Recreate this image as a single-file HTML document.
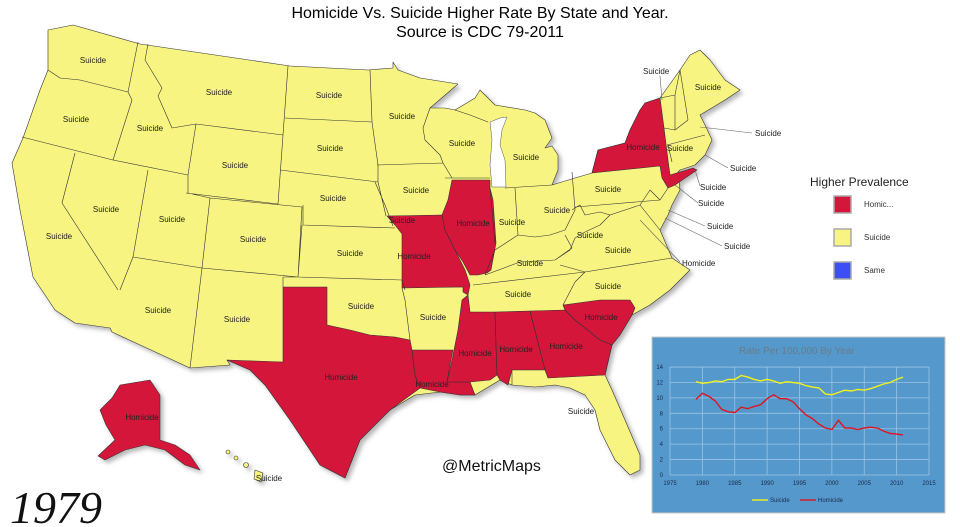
<!DOCTYPE html>
<html><head><meta charset="utf-8"><style>
html,body{margin:0;padding:0;background:#fff;}
body{width:960px;height:527px;position:relative;overflow:hidden;font-family:"Liberation Sans",sans-serif;}
.t{position:absolute;left:0;width:960px;text-align:center;font-size:16px;color:#000;}
</style></head><body>
<div class="t" style="top:5px">Homicide Vs. Suicide Higher Rate By State and Year.</div>
<div class="t" style="top:24px">Source is CDC 79-2011</div>
<svg width="960" height="527" style="position:absolute;left:0;top:0" font-family="Liberation Sans,sans-serif">
<defs><filter id="sh" x="-5%" y="-5%" width="110%" height="110%"><feDropShadow dx="3" dy="3" stdDeviation="2" flood-color="#888" flood-opacity="0.6"/></filter></defs>
<g stroke="#333" stroke-width="0.6" stroke-linejoin="round" filter="url(#sh)">
<path fill="#f7f481" d="M48,30 L73,25 140,44 290,66 368,70 393,68 393,62 398,70 420,78 458,84 430,108 445,108 455,110 475,98 480,90 495,105 525,110 535,113 545,120 552,138 545,148 552,146 558,155 558,170 552,185 575,178 592,173 598,150 625,143 630,130 640,110 645,103 660,98 680,70 690,55 700,50 710,60 725,80 740,90 725,100 700,115 705,125 712,140 705,155 695,165 680,170 678,172 680,190 672,205 668,215 660,230 672,258 690,270 670,290 650,305 632,315 620,335 612,345 605,375 612,390 625,420 640,455 640,470 630,475 615,460 600,430 595,410 585,395 570,388 555,385 535,387 512,385 500,380 475,395 460,395 440,392 415,395 390,410 360,440 345,478 320,465 290,420 265,385 250,370 227,360 230,365 190,368 112,332 110,328 75,323 55,310 33,277 20,210 12,163 23,138 40,90 48,70 Z"/>
<g fill="#d4163a">
<path d="M387,216 L442,215 445,230 460,260 465,270 470,285 468,295 463,292 463,287 402,288 402,234 395,225 Z"/>
<path d="M452,180 L490,180 490,188 493,200 496,243 491,270 487,273 478,275 470,275 463,262 455,250 445,230 442,215 448,200 450,190 Z"/>
<path d="M283,287 L327,287 327,325 350,330 370,335 395,337 410,340 412,350 415,375 420,388 390,410 360,440 345,478 320,465 290,420 265,385 250,370 227,360 283,362 Z"/>
<path d="M412,350 L453,350 450,365 447,382 470,382 475,395 460,395 440,392 420,388 415,375 Z"/>
<path d="M462,300 L468,295 470,312 495,312 497,375 490,380 470,382 447,382 452,360 455,345 458,330 Z"/>
<path d="M495,312 L530,311 545,370 512,370 508,385 500,380 497,375 Z"/>
<path d="M530,311 L565,310 575,320 600,340 612,345 605,375 548,378 545,370 Z"/>
<path d="M565,310 L563,305 600,300 630,300 635,308 632,315 620,335 612,345 600,340 575,320 Z"/>
<path d="M592,173 L598,150 625,143 630,130 640,110 645,103 660,98 664,128 668,160 670,175 693,168 697,170 675,185 668,188 662,178 660,166 592,173 Z"/>
<path d="M120,385 L150,380 160,395 160,440 175,445 190,455 200,470 185,465 165,450 145,445 125,450 105,460 98,456 115,440 106,425 100,410 112,398 Z"/>
</g>
<g fill="none">
<path d="M48,70 L60,78 80,80 128,92 M138,42 L128,92 132,100 113,160 M22,137 L113,160 188,175 M148,44 L145,60 162,88 158,96 172,128 196,124 M196,124 L188,175 188,193 210,198 202,268 M75,153 L62,203 118,290 M148,170 L133,257 120,290 M133,257 L202,268 190,368 M210,198 L302,207 298,277 202,268 M196,124 L283,135 278,204 186,193 M288,66 L283,135 M285,118 L372,122 M370,70 L372,122 378,165 378,182 386,216 M280,170 L378,182 M303,205 L303,225 395,228 M375,182 L385,205 393,226 M302,225 L298,277 402,280 405,290 M283,277 L283,287 M298,277 L283,277 M377,165 L443,163 M430,108 L423,128 425,140 440,155 443,163 452,178 M445,178 L490,178 M455,110 L470,115 488,122 M490,188 L495,243 M515,188 L518,235 M505,188 L552,185 M518,235 L535,237 550,235 565,230 575,210 572,172 M485,275 L495,250 518,235 M565,235 L572,248 555,260 520,262 485,275 M473,285 L585,272 575,282 563,305 M560,265 L585,272 672,258 M555,260 L570,250 575,238 585,232 600,225 610,215 640,205 660,230 M572,210 L580,205 585,215 600,212 610,215 M575,207 L600,205 660,200 668,188 M402,288 L405,300 410,340 M664,128 L675,130 688,120 M660,98 L675,95 675,130 M675,95 L680,70 688,120 M667,145 L705,135 M672,162 L668,145 M640,205 L650,190 660,200 M512,370 L512,385"/>
</g>
<g fill="#f7f481"><circle cx="228" cy="452" r="2"/><circle cx="236" cy="458" r="2"/><circle cx="246" cy="465" r="2.5"/><path d="M255,470 l8,3 -2,9 -7,-3z"/></g>
</g>
<!-- lake michigan -->
<path fill="#fff" stroke="#555" stroke-width="0.5" d="M490,122 L500,118 507,117 502,130 500,145 505,160 506,187 492,187 490,165 492,140 Z"/>
<g font-size="8" fill="#222" text-anchor="middle">
<text x="93" y="63">Suicide</text><text x="76" y="122">Suicide</text><text x="150" y="131">Suicide</text><text x="219" y="95">Suicide</text>
<text x="329" y="98">Suicide</text><text x="402" y="119">Suicide</text><text x="330" y="151">Suicide</text><text x="235" y="168">Suicide</text>
<text x="106" y="212">Suicide</text><text x="172" y="222">Suicide</text><text x="59" y="239">Suicide</text><text x="253" y="242">Suicide</text>
<text x="333" y="201">Suicide</text><text x="350" y="256">Suicide</text><text x="158" y="313">Suicide</text><text x="237" y="322">Suicide</text>
<text x="361" y="309">Suicide</text><text x="433" y="320">Suicide</text><text x="416" y="193">Suicide</text><text x="462" y="146">Suicide</text>
<text x="526" y="160">Suicide</text><text x="402" y="223">Suicide</text><text x="512" y="225">Suicide</text><text x="557" y="213">Suicide</text>
<text x="530" y="266">Suicide</text><text x="518" y="297">Suicide</text><text x="608" y="192">Suicide</text><text x="590" y="238">Suicide</text>
<text x="618" y="253">Suicide</text><text x="608" y="289">Suicide</text><text x="581" y="414">Suicide</text><text x="269" y="481">Suicide</text>
<text x="708" y="90">Suicide</text><text x="680" y="151">Suicide</text>
<text x="341" y="380">Homicide</text><text x="432" y="387">Homicide</text><text x="475" y="356">Homicide</text><text x="516" y="352">Homicide</text>
<text x="566" y="349">Homicide</text><text x="601" y="320">Homicide</text><text x="414" y="259">Homicide</text><text x="473" y="226">Homicide</text>
<text x="643" y="150">Homicide</text><text x="142" y="420">Homicide</text>
</g>
<g stroke="#666" stroke-width="0.6">
<line x1="660" y1="76" x2="662" y2="100"/><line x1="700" y1="127" x2="752" y2="133"/><line x1="705" y1="155" x2="728" y2="168"/>
<line x1="695" y1="170" x2="700" y2="186"/><line x1="675" y1="185" x2="698" y2="203"/><line x1="668" y1="210" x2="705" y2="226"/>
<line x1="665" y1="218" x2="722" y2="246"/><line x1="640" y1="220" x2="680" y2="262"/>
</g>
<g font-size="8" fill="#222">
<text x="643" y="74">Suicide</text><text x="755" y="136">Suicide</text><text x="730" y="171">Suicide</text><text x="700" y="190">Suicide</text>
<text x="698" y="206">Suicide</text><text x="707" y="229">Suicide</text><text x="724" y="249">Suicide</text><text x="682" y="266">Homicide</text>
</g>
<text x="810" y="186" font-size="12" fill="#222">Higher Prevalence</text>
<g stroke="#aaa" stroke-width="1.5"><rect x="834" y="196" width="17" height="17" fill="#d4163a"/><rect x="834" y="229" width="17" height="17" fill="#f7f481"/><rect x="834" y="262" width="17" height="17" fill="#3d4ef7"/></g>
<g font-size="8" fill="#333"><text x="864" y="207">Homic...</text><text x="864" y="240">Suicide</text><text x="864" y="273">Same</text></g>
<text x="442" y="471" font-size="16" fill="#111">@MetricMaps</text>
<text x="10" y="523" font-size="46" font-style="italic" font-family="Liberation Serif,serif" fill="#111">1979</text>
<rect x="652" y="337" width="293" height="176" fill="#5599cc" stroke="#c8c8c8"/>
<text x="797" y="354" font-size="10" fill="#6a7a8a" text-anchor="middle">Rate Per 100,000 By Year</text>
<g id="grid" stroke="#9cc4e4" stroke-width="0.8"></g>
<g id="lbl" font-size="6" fill="#1a2a4a"></g>
<polyline id="su" fill="none" stroke="#f2f21a" stroke-width="1.4"/>
<polyline id="ho" fill="none" stroke="#e0141e" stroke-width="1.4"/>
<line x1="752" y1="500" x2="768" y2="500" stroke="#f2f21a" stroke-width="1.4"/>
<line x1="800" y1="500" x2="816" y2="500" stroke="#e0141e" stroke-width="1.4"/>
<text x="770" y="502" font-size="6" fill="#1a2a4a">Suicide</text><text x="818" y="502" font-size="6" fill="#1a2a4a">Homicide</text>
</svg>
<script>
var X=function(y){return 670+(y-1975)*6.475},Y=function(v){return 475-v*7.71};
var g=document.getElementById('grid'),l=document.getElementById('lbl'),s='';
for(var v=0;v<=14;v+=2){s+='<line x1="670" x2="929" y1="'+Y(v)+'" y2="'+Y(v)+'"/>';}
for(var y=1975;y<=2015;y+=5){s+='<line y1="367" y2="475" x1="'+X(y)+'" x2="'+X(y)+'"/>';}
g.innerHTML=s;s='';
for(var v=0;v<=14;v+=2)s+='<text x="663" y="'+(Y(v)+2)+'" text-anchor="end">'+v+'</text>';
for(var y=1975;y<=2015;y+=5)s+='<text x="'+X(y)+'" y="485" text-anchor="middle">'+y+'</text>';
l.innerHTML=s;
var su=[12.1,11.9,12.0,12.2,12.1,12.4,12.4,12.9,12.7,12.4,12.2,12.4,12.2,11.9,12.1,12.0,11.9,11.6,11.4,11.3,10.5,10.4,10.7,11.0,10.9,11.1,11.0,11.2,11.5,11.8,12.0,12.4,12.7];
var ho=[9.8,10.6,10.2,9.6,8.5,8.2,8.1,8.8,8.6,8.9,9.1,9.9,10.4,9.9,9.9,9.5,8.6,7.8,7.3,6.6,6.1,5.9,7.1,6.1,6.1,5.9,6.1,6.2,6.1,5.7,5.4,5.3,5.2];
function pts(a){return a.map(function(v,i){return X(1979+i).toFixed(1)+','+Y(v).toFixed(1)}).join(' ')}
document.getElementById('su').setAttribute('points',pts(su));
document.getElementById('ho').setAttribute('points',pts(ho));
</script>
</body></html>
